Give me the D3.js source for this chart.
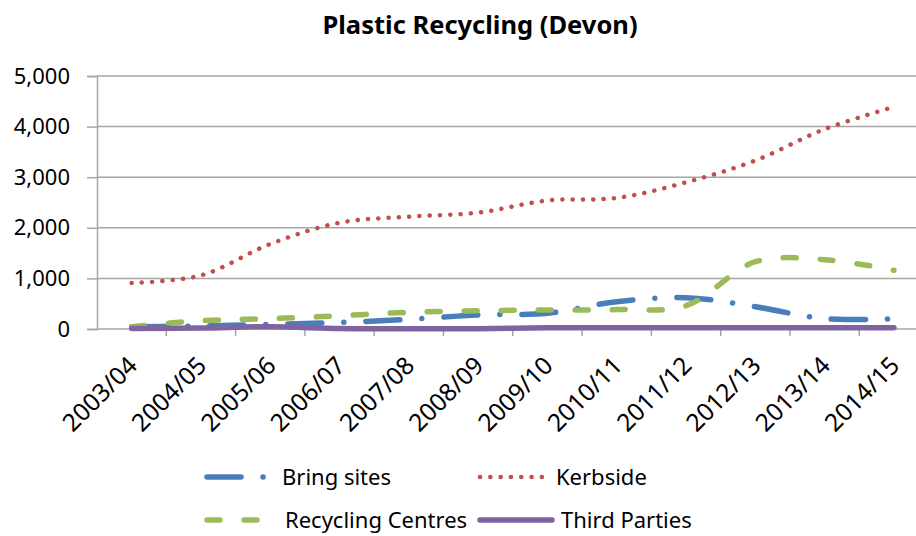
<!DOCTYPE html>
<html>
<head>
<meta charset="utf-8">
<script src="https://cdn.jsdelivr.net/npm/d3@7"></script>
<style>
  body { margin: 0; background: #fff; }
  text { font-family: "Noto Sans", sans-serif; fill: #000; }
</style>
</head>
<body>
<script>
// values (tonnes)
var years = ['2003/04', '2004/05', '2005/06', '2006/07', '2007/08', '2008/09',
             '2009/10', '2010/11', '2011/12', '2012/13', '2013/14', '2014/15'];
var bringSites = [45, 60, 90, 130, 190, 277, 310, 540, 620, 440, 204, 204];
var kerbside = [910, 1060, 1680, 2100, 2220, 2300, 2540, 2590, 2900, 3330, 3950, 4390];
var recyclingCentres = [45, 165, 204, 263, 330, 362, 375, 385, 460, 1330, 1370, 1160];
var thirdParties = [10, 20, 45, 10, 5, 5, 25, 25, 25, 25, 25, 25];
var yTicks = [0, 1000, 2000, 3000, 4000, 5000];

var series = [
  { name: 'Bring sites', values: bringSites, color: '#4A7EBB', width: 5.5, dash: '34,22,0.1,22' },
  { name: 'Kerbside', values: kerbside, color: '#C0504D', width: 4.5, dash: '0.1,10.2' },
  { name: 'Recycling Centres', values: recyclingCentres, color: '#9BBB59', width: 5.5, dash: '13,24' },
  { name: 'Third Parties', values: thirdParties, color: '#8064A2', width: 5.5, dash: null }
];

var W = 916, H = 536;
var svg = d3.select('body').append('svg')
  .attr('width', W).attr('height', H);

var x = d3.scaleBand().domain(years).range([97, 97 + 12 * 69.3]);
var y = d3.scaleLinear().domain([0, 5000]).range([329, 76]);

// title
svg.append('text')
  .attr('x', 480).attr('y', 34)
  .attr('text-anchor', 'middle')
  .style('font-weight', 'bold').style('font-size', '25.5px')
  .text('Plastic Recycling (Devon)');

// gridlines
svg.append('g').selectAll('line')
  .data(yTicks.slice(1))
  .enter().append('line')
  .attr('x1', x.range()[0]).attr('x2', x.range()[1])
  .attr('y1', d => y(d)).attr('y2', d => y(d))
  .attr('stroke', '#a6a6a6').attr('stroke-width', 1.5);

// y axis
var yAxis = svg.append('g')
  .attr('transform', 'translate(97,0)')
  .call(d3.axisLeft(y).tickValues(yTicks).tickFormat(d3.format(',')).tickSize(10).tickPadding(17));
yAxis.select('.domain').attr('stroke', '#a6a6a6').attr('stroke-width', 1.5);
yAxis.selectAll('.tick line').attr('stroke', '#a6a6a6').attr('stroke-width', 1.5);
yAxis.selectAll('.tick text').style('font-size', '22px').style('font-family', '"Noto Sans", sans-serif');

// x axis line with ticks between categories
var xAxis = svg.append('g');
xAxis.append('line')
  .attr('x1', x.range()[0]).attr('x2', x.range()[1])
  .attr('y1', y(0)).attr('y2', y(0))
  .attr('stroke', '#a6a6a6').attr('stroke-width', 1.5);
xAxis.selectAll('line.tk')
  .data(years.slice(1))
  .enter().append('line').attr('class', 'tk')
  .attr('x1', d => x(d)).attr('x2', d => x(d))
  .attr('y1', y(0)).attr('y2', y(0) + 7)
  .attr('stroke', '#a6a6a6').attr('stroke-width', 1.5);
xAxis.selectAll('text')
  .data(years)
  .enter().append('text')
  .attr('transform', d => 'translate(' + (x(d) + x.bandwidth() / 2 + 1) + ',' + (y(0) + 32) + ') rotate(-45)')
  .attr('text-anchor', 'end')
  .attr('dy', '0.35em')
  .style('font-size', '24.5px')
  .text(d => d);

// lines
var line = d3.line()
  .x((d, i) => x(years[i]) + x.bandwidth() / 2)
  .y(d => y(d))
  .curve(d3.curveCatmullRom.alpha(0.5));

svg.append('g').selectAll('path')
  .data(series)
  .enter().append('path')
  .attr('d', d => line(d.values))
  .attr('fill', 'none')
  .attr('stroke', d => d.color)
  .attr('stroke-width', d => d.width)
  .attr('stroke-linecap', 'round')
  .attr('stroke-dasharray', d => d.dash);

// legend
var legendPos = [
  { x: 207, y: 477, len: 60, tx: 282 },
  { x: 480, y: 477, len: 68, tx: 556 },
  { x: 207, y: 520, len: 55, tx: 285 },
  { x: 480, y: 520, len: 72, tx: 561 }
];
var legend = svg.append('g').selectAll('g')
  .data(series)
  .enter().append('g');
legend.append('line')
  .attr('x1', (d, i) => legendPos[i].x)
  .attr('x2', (d, i) => legendPos[i].x + legendPos[i].len)
  .attr('y1', (d, i) => legendPos[i].y).attr('y2', (d, i) => legendPos[i].y)
  .attr('stroke', d => d.color)
  .attr('stroke-width', d => d.width)
  .attr('stroke-linecap', 'round')
  .attr('stroke-dasharray', d => d.dash);
legend.append('text')
  .attr('x', (d, i) => legendPos[i].tx)
  .attr('y', (d, i) => legendPos[i].y)
  .attr('dy', '0.35em')
  .style('font-size', '22px')
  .text(d => d.name);
</script>
</body>
</html>
